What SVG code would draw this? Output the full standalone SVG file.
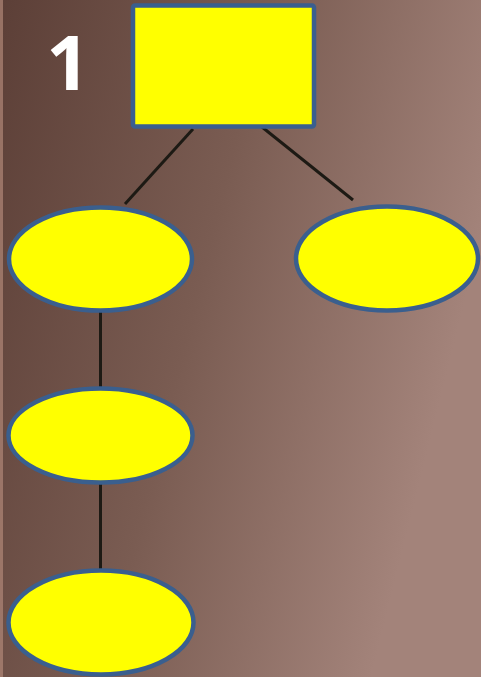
<svg xmlns="http://www.w3.org/2000/svg" width="481" height="677" viewBox="0 0 481 677">
<defs>
<linearGradient id="bg" x1="0" y1="0" x2="1" y2="0.35">
<stop offset="0" stop-color="#5c3f37"/>
<stop offset="0.5" stop-color="#7a5c52"/>
<stop offset="1" stop-color="#a3837a"/>
</linearGradient>
<style>
.node{fill:#ffff00;stroke:#3a5f8e;stroke-width:4.5}
.conn{stroke:#1d1a14;stroke-width:3;fill:none}
.num{font-family:"Open Sans","Liberation Sans",sans-serif;font-weight:bold;fill:#ffffff}
</style>
</defs>
<rect width="481" height="677" fill="url(#bg)"/>
<rect x="0" y="0" width="3" height="677" fill="#b08878" opacity="0.7"/>
<text class="num" x="68" y="90" font-size="76" text-anchor="middle">1</text>
<g id="connectors">
<line class="conn" x1="193" y1="129" x2="125" y2="204"/>
<line class="conn" x1="257" y1="123" x2="353" y2="200"/>
<line class="conn" x1="100.5" y1="311" x2="100.5" y2="388"/>
<line class="conn" x1="100.5" y1="483" x2="100.5" y2="572"/>
</g>
<g id="root"><rect class="node" x="133" y="5.5" width="181" height="121" rx="2"/></g>
<g id="n1"><ellipse class="node" cx="100.5" cy="259" rx="91.5" ry="51.5"/></g>
<g id="n2"><ellipse class="node" cx="387" cy="258.5" rx="91" ry="52"/></g>
<g id="n3"><ellipse class="node" cx="100.5" cy="435.5" rx="92" ry="47"/></g>
<g id="n4"><ellipse class="node" cx="101" cy="622.5" rx="92.5" ry="52"/></g>
</svg>
